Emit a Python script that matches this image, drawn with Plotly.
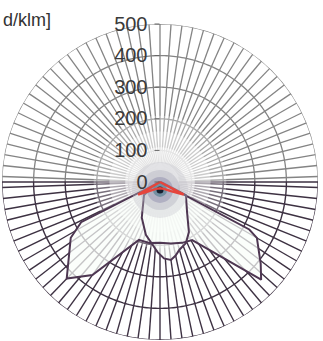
import plotly.graph_objects as go

# ---- data (angle from nadir in degrees, + to the right; intensity in cd/klm)
gamma_a = [-90, -70, -65, -63, -58, -44, -36, -20, -10, 0, 10, 20, 29, 46, 51, 60, 62, 64, 70, 90]
int_a   = [0,   0,   5,   280, 333, 425, 364, 195, 196, 192, 198, 205, 210, 445, 410, 354, 320, 5, 0, 0]

gamma_b = [-90, -70, -51, -27, -15, -8, -2, 3, 8, 12, 16, 23, 30, 42, 63, 75, 90]
int_b   = [0,   10,  65,  127, 173, 195, 222, 242, 249, 238, 223, 210, 183, 128, 92, 10, 0]

gamma_r = [-90, -65, -60, -50, -30, 0, 30, 50, 62, 66, 90]
int_r   = [0,   0,   80,  45,  25,  20, 25, 45, 85, 0, 0]

tick_vals = [0, 100, 200, 300, 400, 500]
tick_text = ["0", "100", "200", "300", "400", "500"]
ring_vals = [100, 200, 300, 400, 500]
unit_label = "d/klm]"

R_MAX = 500
SPOKE_STEP = 4

fig = go.Figure()

def spokes(a0, a1, r0=0):
    r, t = [], []
    a = a0
    while a <= a1:
        r += [r0, R_MAX, None]
        t += [a, a, None]
        a += SPOKE_STEP
    return r, t

def rings(a0, a1):
    r, t = [], []
    for rv in ring_vals:
        for a in range(a0, a1 + 1):
            r.append(rv); t.append(a)
        r.append(None); t.append(None)
    return r, t

upper_col = "#848484"
lower_col = "#3d3142"

r, t = spokes(92, 268)
fig.add_trace(go.Scatterpolar(r=r, theta=t, mode="lines", line=dict(color=upper_col, width=1.3), hoverinfo="skip"))
r, t = rings(90, 270)
fig.add_trace(go.Scatterpolar(r=r, theta=t, mode="lines", line=dict(color=upper_col, width=1.3), hoverinfo="skip"))
r, t = spokes(-88, 88)
fig.add_trace(go.Scatterpolar(r=r, theta=t, mode="lines", line=dict(color=lower_col, width=1.4), hoverinfo="skip"))
r, t = spokes(90, 90)
fig.add_trace(go.Scatterpolar(r=r + [0, R_MAX], theta=t + [-90, -90], mode="lines",
                              line=dict(color=lower_col, width=1.4), hoverinfo="skip"))
r, t = rings(-90, 90)
fig.add_trace(go.Scatterpolar(r=r, theta=t, mode="lines", line=dict(color=lower_col, width=1.4), hoverinfo="skip"))

# central light glow
th = list(range(0, 361, 3))
for rad, alpha in [(210, 0.3), (160, 0.4), (110, 0.5), (60, 0.5)]:
    fig.add_trace(go.Scatterpolar(r=[rad] * len(th), theta=th, mode="lines", fill="toself",
                                  fillcolor=f"rgba(255,255,255,{alpha})", line=dict(width=0),
                                  hoverinfo="skip"))

# light fill inside curves
for g, v in [(gamma_a, int_a), (gamma_b, int_b)]:
    fig.add_trace(go.Scatterpolar(r=v, theta=g, mode="lines", fill="toself",
                                  fillcolor="rgba(250,253,250,0.72)", line=dict(width=0),
                                  hoverinfo="skip"))

curve_col = "#4e3752"
fig.add_trace(go.Scatterpolar(r=int_a, theta=gamma_a, mode="lines", line=dict(color=curve_col, width=2)))
fig.add_trace(go.Scatterpolar(r=int_b, theta=gamma_b, mode="lines", line=dict(color=curve_col, width=2)))

# blurred blob at centre
for size, col, op in [(56, "#c4c4cc", 0.35), (40, "#a8a8b8", 0.35), (26, "#8a88a8", 0.45),
                      (14, "#4a7a8a", 0.6), (7, "#101828", 0.95)]:
    fig.add_trace(go.Scatterpolar(r=[25], theta=[0], mode="markers",
                                  marker=dict(size=size, color=col, opacity=op, line=dict(width=0)),
                                  hoverinfo="skip"))

fig.add_trace(go.Scatterpolar(r=int_r, theta=gamma_r, mode="lines", line=dict(color="#e5453c", width=2.4)))

fig.update_layout(
    width=323, height=341,
    margin=dict(l=0, r=0, t=0, b=0),
    paper_bgcolor="white",
    showlegend=False,
    polar=dict(
        domain=dict(x=[2 / 323, 318 / 323], y=[1 / 341, 317 / 341]),
        bgcolor="white",
        angularaxis=dict(rotation=270, direction="counterclockwise", showgrid=False,
                         showline=False, showticklabels=False, ticks=""),
        radialaxis=dict(range=[0, R_MAX], angle=90, tickangle=90, tickvals=tick_vals, ticktext=tick_text,
                        showgrid=False, showline=False, ticks="outside", ticklen=5,
                        tickcolor="#666", side="counterclockwise",
                        tickfont=dict(family="Liberation Sans, Arial", size=20, color="#3a3a3a")),
    ),
    annotations=[dict(text=unit_label, xref="paper", yref="paper", x=1 / 323, y=1 - 20 / 341,
                      xanchor="left", yanchor="middle", showarrow=False,
                      font=dict(family="Liberation Sans, Arial", size=18, color="#333"))],
)

fig.write_html("out.html", config={"displayModeBar": False},
               post_script="document.body.style.margin='0';")
